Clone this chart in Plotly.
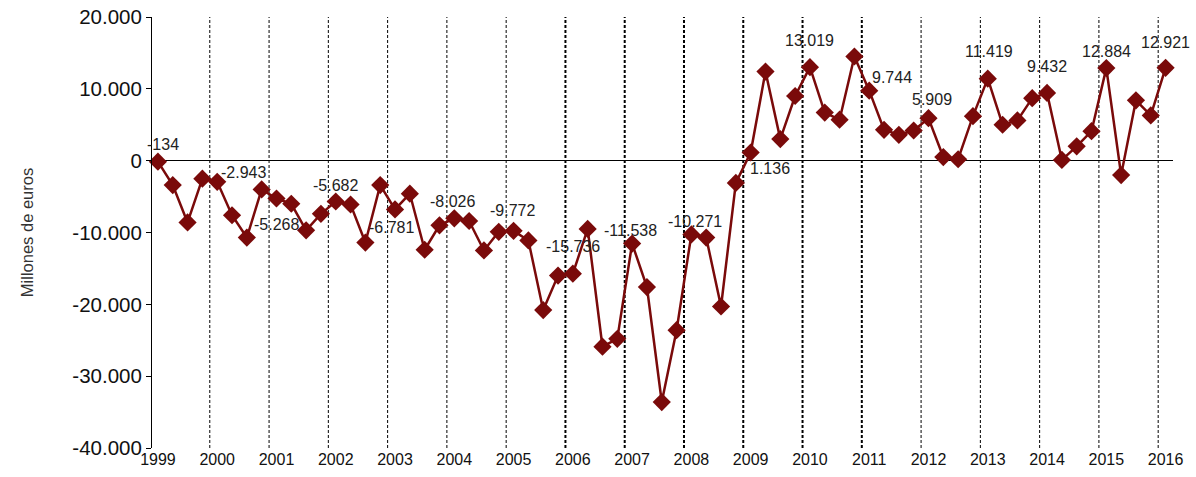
import plotly.graph_objects as go

years = list(range(1999, 2017))
quarters = [f"{y}T{q}" for y in range(1999, 2016) for q in range(1, 5)] + ["2016T1"]

values = [
    -134, -3400, -8600, -2500,
    -2943, -7600, -10700, -4000,
    -5268, -6000, -9700, -7400,
    -5682, -6100, -11400, -3400,
    -6781, -4600, -12400, -9000,
    -8026, -8400, -12500, -9900,
    -9772, -11100, -20800, -16000,
    -15736, -9500, -25900, -24800,
    -11538, -17600, -33600, -23600,
    -10271, -10700, -20300, -3100,
    1136, 12400, 3000, 9000,
    13019, 6700, 5700, 14500,
    9744, 4300, 3600, 4200,
    5909, 500, 200, 6200,
    11419, 5000, 5600, 8700,
    9432, 100, 2000, 4100,
    12884, -2000, 8400, 6300,
    12921,
]

y_ticks = [20000, 10000, 0, -10000, -20000, -30000, -40000]
y_tick_labels = ["20.000", "10.000", "0", "-10.000", "-20.000", "-30.000", "-40.000"]

# label offsets (px) for the first-quarter value labels, per year
label_dx = [5, 26, 0, 0, -4, -2, -1, 0, -2, 4, 19, 0, 23, 4, 1, 0, 0, 0]
label_dy = [17, 9, -26, 16, -18, 17, 20, 27, 13, 13, -16, 27, 13, 19, 27, 26, 17, 25]
thick_boundaries = [2006, 2007, 2008, 2009, 2010, 2011]


def fmt_es(v):
    s = f"{abs(v):,}".replace(",", ".")
    return ("-" if v < 0 else "") + s


x_idx = list(range(len(values)))
color = "#7a0a0a"
FONT = "Liberation Sans, Arial, sans-serif"

fig = go.Figure()
fig.add_trace(go.Scatter(
    x=x_idx, y=values, mode="lines+markers",
    line=dict(color=color, width=2.5),
    marker=dict(symbol="diamond", size=14, color=color),
    hoverinfo="skip", showlegend=False, cliponaxis=False,
))

q1_idx = [i for i in x_idx if i % 4 == 0]

annotations = []
for k, i in enumerate(q1_idx):
    annotations.append(dict(
        x=i, y=values[i], xref="x", yref="y",
        text=fmt_es(values[i]), showarrow=False,
        xanchor="center", yanchor="middle",
        xshift=label_dx[k], yshift=label_dy[k],
        font=dict(family=FONT, size=16, color="#222222"),
    ))

shapes = []
for k, yr in enumerate(years[1:], start=1):
    xb = 4 * k - 0.5
    shapes.append(dict(
        type="line", xref="x", yref="paper", x0=xb, x1=xb, y0=0, y1=1,
        line=dict(color="black", width=2 if yr in thick_boundaries else 1, dash="3px,2px"),
        layer="below",
    ))

fig.update_layout(
    width=1196, height=477,
    margin=dict(l=152, r=23, t=17, b=29, autoexpand=False),
    paper_bgcolor="white", plot_bgcolor="white",
    font=dict(family=FONT, color="#111111"),
    annotations=annotations, shapes=shapes,
    xaxis=dict(
        range=[-0.4, 68.5], tickvals=q1_idx, ticktext=[str(y) for y in years],
        showgrid=False, zeroline=False, showline=False, ticks="",
        tickfont=dict(size=16), fixedrange=True, automargin=False,
        ticklabeloverflow="allow",
    ),
    yaxis=dict(
        range=[-40000, 20000], tickvals=y_ticks, ticktext=y_tick_labels,
        showgrid=False, zeroline=True, zerolinecolor="black", zerolinewidth=1,
        showline=True, linecolor="black", linewidth=1,
        ticks="outside", ticklen=5, tickcolor="black",
        tickfont=dict(size=20.5), automargin=False, ticklabeloverflow="allow",
        title=dict(text="Millones de euros", font=dict(size=16.5, color="#333333"), standoff=34),
        fixedrange=True,
    ),
)

# remove the default page margin so the figure fills the window exactly
fig.write_html(
    "out.html",
    config={"displayModeBar": False},
    post_script="document.body.style.margin='0';document.body.style.overflow='hidden';",
)
